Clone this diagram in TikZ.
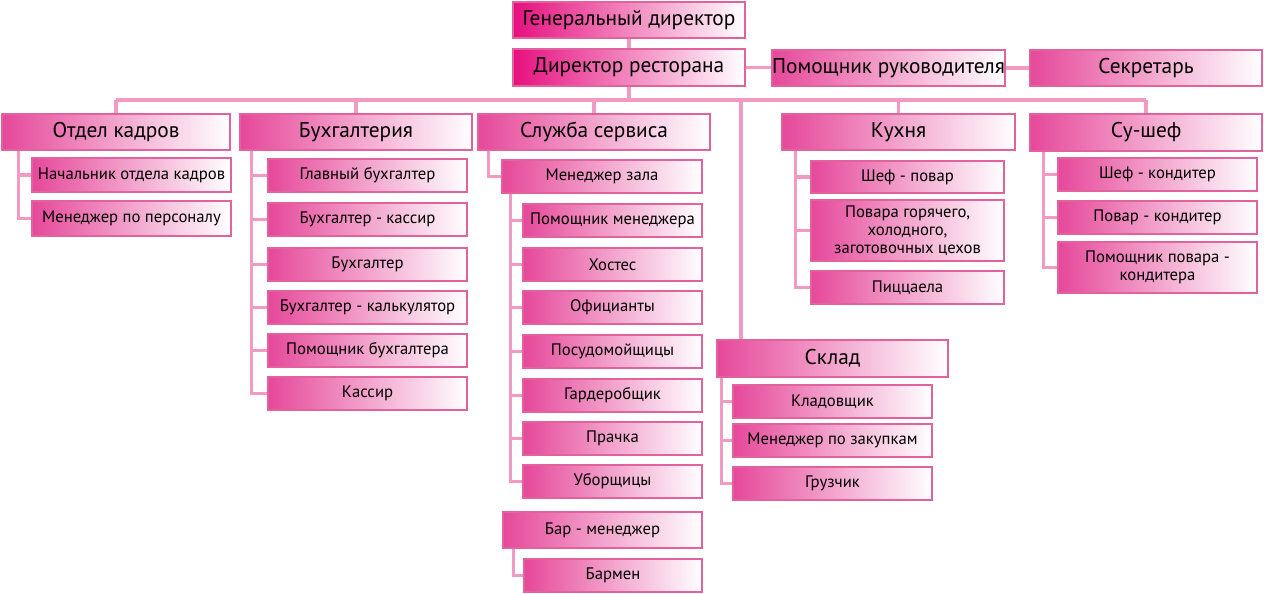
\documentclass[tikz,border=0pt]{standalone}
\usepackage{fontspec}
\setmainfont{PT Sans}
\usetikzlibrary{calc}
\definecolor{bord}{HTML}{E2629E}
\definecolor{conn}{HTML}{F29AC3}
\definecolor{shadeA}{HTML}{E6489A}
\definecolor{shadeTop}{HTML}{E6107F}
\newcommand\bx[7]{\node[#7,minimum width={(#4-#2)*0.75pt},minimum height={(#5-#3)*0.75pt}] (#1) at ({(#2+#4)/2},{(#3+#5)/2}) {#6};}
\newcommand\kid[3]{\draw[link] ($(#1.south west)+(#2,0)$) |- (#3.west);}
\begin{document}
\begin{tikzpicture}[x=0.75pt,y=-0.75pt,
  box/.style={draw=bord,line width=2.2pt,left color=shadeA,right color=white,inner sep=0pt,
    font=\fontsize{12.5}{13.5}\selectfont,align=center,text=black},
  topbox/.style={box,left color=shadeTop,font=\fontsize{16}{18}\selectfont},
  deptbox/.style={box,font=\fontsize{16}{18}\selectfont},
  link/.style={draw=conn,line width=2.8pt}]
\useasboundingbox (0,0) rectangle (1264,593);
% top
\bx{gd}{513}{2}{745}{38}{Генеральный директор}{topbox}
\bx{dr}{513}{49}{745}{86}{Директор ресторана}{topbox}
\bx{pr}{772}{50}{1005}{86}{Помощник руководителя}{deptbox}
\bx{sec}{1030}{50}{1262}{86}{Секретарь}{deptbox}
% departments
\bx{ok}{2}{114}{230}{150}{Отдел кадров}{deptbox}
\bx{bu}{240}{114}{472}{150}{Бухгалтерия}{deptbox}
\bx{ss}{478}{114}{710}{150}{Служба сервиса}{deptbox}
\bx{ku}{782}{114}{1015}{150}{Кухня}{deptbox}
\bx{su}{1030}{114}{1262}{151}{Су-шеф}{deptbox}
\bx{sk}{717}{340}{948}{377}{Склад}{deptbox}
% HR
\bx{ok1}{32}{158}{231}{192}{Начальник отдела кадров}{box}
\bx{ok2}{32}{201}{231}{236}{Менеджер по персоналу}{box}
% accounting
\bx{bu1}{268}{159}{467}{192}{Главный бухгалтер}{box}
\bx{bu2}{268}{203}{467}{236}{Бухгалтер - кассир}{box}
\bx{bu3}{268}{248}{467}{281}{Бухгалтер}{box}
\bx{bu4}{268}{291}{467}{324}{Бухгалтер - калькулятор}{box}
\bx{bu5}{268}{334}{467}{367}{Помощник бухгалтера}{box}
\bx{bu6}{268}{377}{467}{410}{Кассир}{box}
% service
\bx{mz}{502}{160}{702}{193}{Менеджер зала}{box}
\bx{ss1}{523}{204}{702}{237}{Помощник менеджера}{box}
\bx{ss2}{523}{248}{702}{281}{Хостес}{box}
\bx{ss3}{523}{291}{702}{324}{Официанты}{box}
\bx{ss4}{523}{335}{702}{368}{Посудомойщицы}{box}
\bx{ss5}{523}{379}{702}{412}{Гардеробщик}{box}
\bx{ss6}{523}{422}{702}{455}{Прачка}{box}
\bx{ss7}{523}{465}{702}{498}{Уборщицы}{box}
\bx{bm}{503}{512}{702}{548}{Бар - менеджер}{box}
\bx{bm1}{524}{559}{702}{592}{Бармен}{box}
% kitchen
\bx{ku1}{811}{161}{1004}{193}{Шеф - повар}{box}
\bx{ku2}{811}{200}{1004}{261}{Повара горячего,\\холодного,\\заготовочных цехов}{box}
\bx{ku3}{811}{271}{1004}{304}{Пиццаела}{box}
% sous-chef
\bx{su1}{1058}{158}{1257}{191}{Шеф - кондитер}{box}
\bx{su2}{1058}{201}{1257}{234}{Повар - кондитер}{box}
\bx{su3}{1058}{242}{1257}{293}{Помощник повара -\\кондитера}{box}
% store
\bx{sk1}{733}{385}{932}{418}{Кладовщик}{box}
\bx{sk2}{733}{424}{932}{457}{Менеджер по закупкам}{box}
\bx{sk3}{733}{467}{932}{500}{Грузчик}{box}
% connectors
\draw[link] (gd.south) -- (dr.north);
\draw[link] (dr.east) -- (dr.east -| pr.west);
\draw[link] (pr.east) -- (pr.east -| sec.west);
\coordinate (bus) at (0,100);
\coordinate (skd) at (741,100);
\draw[link] (ok.north |- bus) -- (su.north |- bus);
\draw[link] (dr.south) -- (dr.south |- bus);
\foreach \d in {ok,bu,ss,ku,su}{\draw[link] (\d.north |- bus) -- (\d.north);}
\draw[link] (skd) -- (skd |- sk.north);
\kid{ok}{18}{ok1}\kid{ok}{18}{ok2}
\foreach \c in {bu1,bu2,bu3,bu4,bu5,bu6}{\kid{bu}{13}{\c}}
\kid{ss}{12}{mz}
\foreach \c in {ss1,ss2,ss3,ss4,ss5,ss6,ss7}{\kid{mz}{10}{\c}}
\kid{bm}{12}{bm1}
\foreach \c in {ku1,ku2,ku3}{\kid{ku}{15}{\c}}
\foreach \c in {su1,su2,su3}{\kid{su}{15}{\c}}
\foreach \c in {sk1,sk2,sk3}{\kid{sk}{6}{\c}}
\end{tikzpicture}
\end{document}
